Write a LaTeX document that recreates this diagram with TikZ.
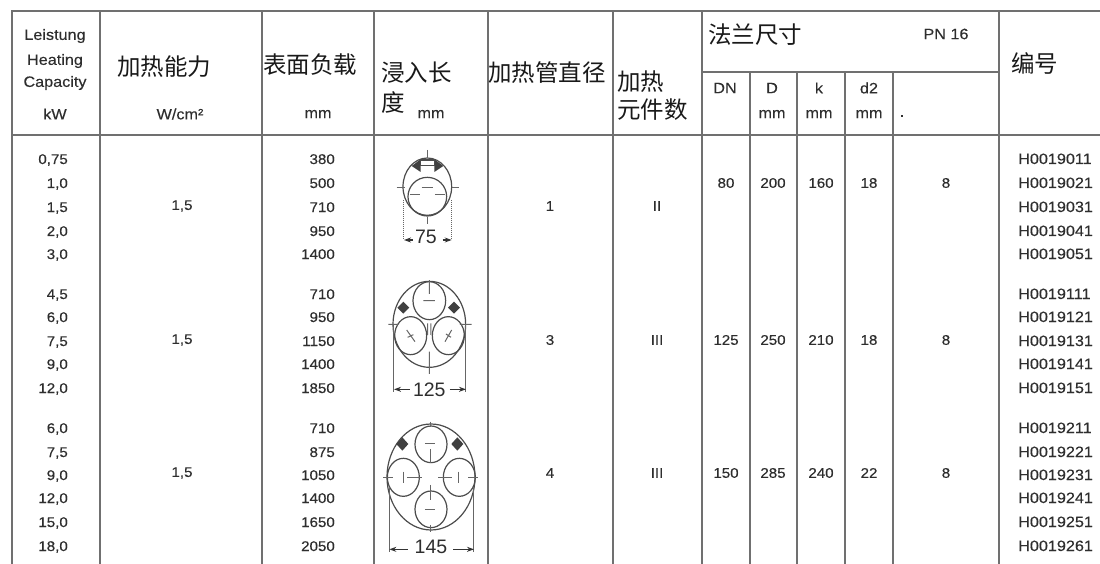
\documentclass[tikz,border=0pt]{standalone}
\usepackage{fontspec}
\setmainfont[FakeStretch=1.08,FakeBold=0.25]{Liberation Sans}
\newfontfamily\cjk{Noto Sans CJK SC}
\newfontfamily\dimf{Liberation Sans}
\usetikzlibrary{arrows.meta}
\definecolor{ink}{HTML}{2E2E2E}
\definecolor{rule}{HTML}{707070}
\tikzset{
 gridline/.style={draw=rule,line width=1.7pt},
 tiny/.style={inner sep=0,text=ink,font=\fontsize{14}{14}\selectfont},
 idtext/.style={tiny,font=\fontsize{15}{15}\selectfont,anchor=base west},
 headtext/.style={tiny,font=\fontsize{15}{15}\selectfont},
 cn/.style={inner sep=0,text=black!90,font=\fontsize{23.5}{23.5}\cjk,anchor=west},
 dimtext/.style={inner sep=0,text=ink,font=\fontsize{19.5}{19.5}\dimf},
 sk/.style={draw=black!70,line width=1.2pt},
 axisl/.style={draw=black!60,line width=1pt},
 dimarrow/.style={draw=black!80,line width=1.2pt},
 sc/.style={x=0.3333pt,y=-0.3333pt},
}
\begin{document}
\begin{tikzpicture}[x=1pt,y=-1pt]
\useasboundingbox (0,0) rectangle (1100,564);
\fill[white] (0,0) rectangle (1100,564);
% grid
\draw[gridline] (11,11) -- (1100,11);
\draw[gridline] (11,135) -- (1100,135);
\draw[gridline] (702,72) -- (999,72);
\foreach \x in {12,100,262,374,488,613,702,999}
  \draw[gridline] (\x,11) -- (\x,564);
\foreach \x in {750,797,845,893}
  \draw[gridline] (\x,72) -- (\x,564);
% header
\node[headtext] (h1) at (55,36) {Leistung};
\node[headtext] (h2) at (55,61) {Heating};
\node[headtext] (h3) at (55,83) {Capacity};
\node[headtext] (h4) at (55,114) {kW};
\node[cn] (c1) at (117,67) {加热能力};
\node[headtext] (u1) at (180,114) {W/cm²};
\node[cn] (c2) at (263,65) {表面负载};
\node[headtext] (u2) at (318,114) {mm};
\node[cn] (c3) at (381,73) {浸入长};
\node[cn] (c3b) at (381,103) {度};
\node[headtext] (u3) at (431,114) {mm};
\node[cn] (c4) at (488,73) {加热管直径};
\node[cn] (c5) at (617,82) {加热};
\node[cn] (c5b) at (617,110) {元件数};
\node[cn] (c6) at (708,35) {法兰尺寸};
\node[headtext] (pn) at (946,34) {PN 16};
\node[cn] (c7) at (1011,63) {编号};
\node[headtext] (s1) at (725,88) {DN};
\node[headtext] (s2) at (772,88) {D};
\node[headtext] (s3) at (819,88) {k};
\node[headtext] (s4) at (869,88) {d2};
\node[headtext] (m2) at (772,114) {mm};
\node[headtext] (m3) at (819,114) {mm};
\node[headtext] (m4) at (869,114) {mm};
\node[headtext] (dot) at (902,116) {.};
% body rows
\foreach \y/\a/\b/\id [count=\i] in {
159/{0,75}/380/H0019011,183/{1,0}/500/H0019021,207/{1,5}/710/H0019031,231/{2,0}/950/H0019041,254/{3,0}/1400/H0019051,
294/{4,5}/710/H0019111,317/{6,0}/950/H0019121,341/{7,5}/1150/H0019131,364/{9,0}/1400/H0019141,388/{12,0}/1850/H0019151,
428/{6,0}/710/H0019211,452/{7,5}/875/H0019221,475/{9,0}/1050/H0019231,498/{12,0}/1400/H0019241,522/{15,0}/1650/H0019251,546/{18,0}/2050/H0019261}{
  \node[tiny,anchor=base east] (a\i) at (68,\y+5) {\a};
  \node[tiny,anchor=base east] (b\i) at (335,\y+5) {\b};
  \node[idtext] (id\i) at (1018,\y+5) {\id};
}
% group values
\foreach \y/\p/\e/\f/\dn/\dd/\k/\dt [count=\i] in {
206/1/II/183/80/200/160/18,
340/3/III/340/125/250/210/18,
473/4/III/473/150/285/240/22}{
  \node[tiny] (w\i) at (182,\y) {1,5};
  \node[tiny] (p\i) at (550,\y) {\p};
  \node[tiny] (e\i) at (657,\y) {\e};
  \node[tiny] (dn\i) at (726,\f) {\dn};
  \node[tiny] (dd\i) at (773,\f) {\dd};
  \node[tiny] (k\i) at (821,\f) {\k};
  \node[tiny] (dt\i) at (869,\f) {\dt};
  \node[tiny] (n\i) at (946,\f) {8};
}
% sketch 1
\begin{scope}[shift={(370,150)},sc]
 \draw[sk] (172,110) ellipse [x radius=73,y radius=86];
 \draw[sk] (172,140) ellipse [x radius=58,y radius=58];
 \fill[black!75] (125,48) -- (152,28) -- (152,66) -- cycle;
 \fill[black!75] (220,48) -- (193,28) -- (193,66) -- cycle;
 \draw[sk] (152,30) rectangle (193,47);
 \draw[axisl] (172,0) -- (172,25) (172,200) -- (172,222) (80,112) -- (105,112) (245,112) -- (268,112)
   (120,135) -- (150,135) (195,135) -- (225,135) (155,112) -- (190,112);
 \draw[axisl,densely dotted] (100,150) -- (100,270) (245,150) -- (245,270);
 \draw[dimarrow,{Stealth[length=7pt,width=5pt]}-] (102,270) -- (128,270);
 \draw[dimarrow,-{Stealth[length=7pt,width=5pt]}] (218,270) -- (245,270);
 \node[dimtext] (d75) at (168,262) {75};
\end{scope}
% sketch 2
\begin{scope}[shift={(370,280)},sc]
 \draw[sk] (178,133) ellipse [x radius=109,y radius=129];
 \draw[sk] (178,62) ellipse [x radius=49,y radius=57];
 \draw[sk] (122,167) ellipse [x radius=48,y radius=57];
 \draw[sk] (235,167) ellipse [x radius=48,y radius=57];
 \fill[black!75] (100,65) -- (118,83) -- (100,101) -- (82,83) -- cycle;
 \fill[black!75] (252,65) -- (270,83) -- (252,101) -- (234,83) -- cycle;
 \draw[axisl] (178,0) -- (178,42) (160,62) -- (195,62) (55,133) -- (85,133) (270,133) -- (305,133)
   (178,215) -- (178,282) (173,130) -- (173,165) (183,130) -- (183,165)
   (110,150) -- (135,185) (113,172) -- (130,164) (225,185) -- (245,150) (228,162) -- (243,172);
 \draw[axisl] (70,135) -- (70,335) (288,135) -- (288,335);
 \draw[dimarrow,{Stealth[length=7pt,width=5pt]}-] (72,328) -- (120,328);
 \draw[dimarrow,-{Stealth[length=7pt,width=5pt]}] (240,328) -- (288,328);
 \node[dimtext] (d125) at (178,328) {125};
\end{scope}
% sketch 3
\begin{scope}[shift={(370,410)},sc]
 \draw[sk] (183,201) ellipse [x radius=132,y radius=159];
 \draw[sk] (183,103) ellipse [x radius=48,y radius=55];
 \draw[sk] (183,298) ellipse [x radius=48,y radius=55];
 \draw[sk] (100,202) ellipse [x radius=48,y radius=57];
 \draw[sk] (268,202) ellipse [x radius=48,y radius=57];
 \fill[black!75] (97,82) -- (115,102) -- (97,122) -- (79,102) -- cycle;
 \fill[black!75] (262,82) -- (280,102) -- (262,122) -- (244,102) -- cycle;
 \draw[axisl] (40,202) -- (70,202) (112,202) -- (155,202) (205,202) -- (245,202) (295,202) -- (325,202)
   (183,118) -- (183,160) (183,225) -- (183,270) (183,345) -- (183,365) (183,35) -- (183,50)
   (165,100) -- (195,100) (165,298) -- (195,298) (100,185) -- (100,220) (265,185) -- (265,220);
 \draw[axisl] (57,230) -- (57,425) (312,230) -- (312,425);
 \draw[dimarrow,{Stealth[length=7pt,width=5pt]}-] (58,418) -- (115,418);
 \draw[dimarrow,-{Stealth[length=7pt,width=5pt]}] (250,418) -- (312,418);
 \node[dimtext] (d145) at (183,410) {145};
\end{scope}
\end{tikzpicture}
\end{document}
